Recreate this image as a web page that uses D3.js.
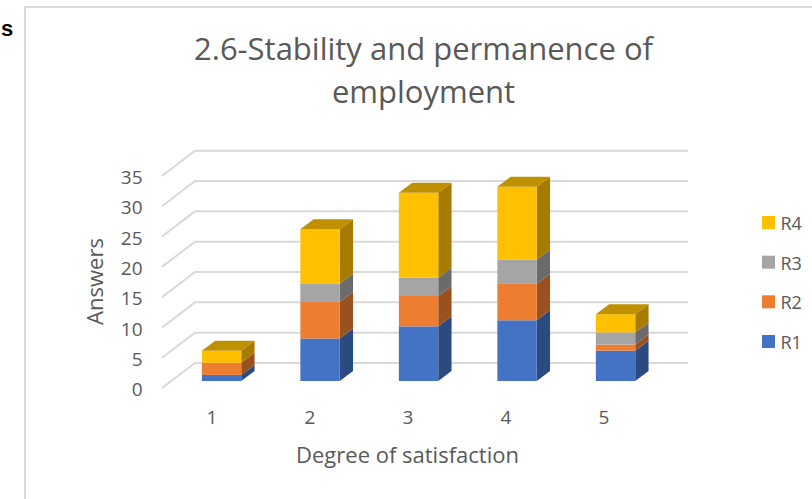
<!DOCTYPE html>
<html><head><meta charset="utf-8">
<script src="https://cdn.jsdelivr.net/npm/d3@7"></script>
<style>html,body{margin:0;padding:0;background:#fff}svg{display:block}text{font-family:"Open Sans",sans-serif}</style>
</head><body><svg id="c" width="812" height="499"></svg>
<script>
const categories = ["1","2","3","4","5"];
const seriesNames = ["R1","R2","R3","R4"];
const R1 = [1,7,9,10,5];
const R2 = [2,6,5,6,1];
const R3 = [0,3,3,4,2];
const R4 = [2,9,14,12,3];
const yTicks = [0,5,10,15,20,25,30,35];
const frontColors = ["#4472c4","#ed7d31","#a5a5a5","#ffc000"];
const sideColors = ["#2b4a80","#9a5120","#6b6b6b","#a67c00"];
const topColor = "#bf9000";
const titleLines = ["2.6-Stability and permanence of","employment"];

const svg = d3.select("#c");
const rows = categories.map((c,i)=>({c,R1:R1[i],R2:R2[i],R3:R3[i],R4:R4[i]}));
const stacked = d3.stack().keys(seriesNames)(rows);

const depth = {dx:13.3, dy:-10};
const x = d3.scaleBand().domain(categories).range([172.3,664.8]).paddingInner(0.6).paddingOuter(0.3);
const xLabels = d3.scalePoint().domain(categories).range([212,604]);
const y = d3.scaleLinear().domain([0,35]).range([381,168.5]);
const yBack = d3.scaleLinear().domain([0,35]).range([363,150.7]);
const yFront = d3.scaleLinear().domain([0,35]).range([388,176]);

// frame and stray letter
svg.append("path").attr("d","M25,499V7H812").attr("fill","none").attr("stroke","#d9d9d9").attr("stroke-width",2);
svg.append("text").attr("x",1).attr("y",36).attr("font-size",22).attr("font-weight",700)
  .style("font-family","'Liberation Sans',Arial,sans-serif").attr("fill","#000").text("s");

// title
svg.append("g").selectAll("text").data(titleLines).join("text")
  .attr("x",423.5).attr("y",(d,i)=>60+i*43).attr("text-anchor","middle")
  .attr("font-size",31).attr("fill","#595959").text(d=>d);

// gridlines
const grid = svg.append("g").attr("fill","none").attr("stroke","#d9d9d9").attr("stroke-width",2);
grid.selectAll("path").data(yTicks).join("path")
  .attr("d",t=>`M162,${yFront(t)}L195,${yBack(t)}H688`);

// y axis labels
const yAxisG = svg.append("g").attr("transform","translate(142.5,-0.5)")
  .call(d3.axisLeft(d3.scaleLinear().domain([0,35]).range([390,178])).tickValues(yTicks).tickSize(0).tickPadding(0));
yAxisG.select(".domain").remove();
yAxisG.selectAll("text").attr("font-size",19).attr("fill","#595959").style("font-family","'Open Sans',sans-serif");

// bars
const barsG = svg.append("g");
stacked.forEach((s,si)=>{
  const g = barsG.append("g");
  s.forEach((d,i)=>{
    if (d[1]===d[0]) return;
    const cat = categories[i];
    const x0 = x(cat), x1 = x0+x.bandwidth();
    const yb = y(d[0]), yt = y(d[1]);
    g.append("path").attr("fill",sideColors[si])
      .attr("d",`M${x1},${yb}l${depth.dx},${depth.dy}V${yt+depth.dy}L${x1},${yt}Z`);
    g.append("rect").attr("x",x0).attr("y",yt).attr("width",x.bandwidth()).attr("height",yb-yt).attr("fill",frontColors[si]);
  });
});
// top caps
barsG.append("g").selectAll("path").data(categories).join("path")
  .attr("fill",topColor)
  .attr("d",(c,i)=>{
    const x0=x(c), x1=x0+x.bandwidth(), t=y(R1[i]+R2[i]+R3[i]+R4[i]);
    return `M${x0},${t}L${x1},${t}l${depth.dx},${depth.dy}H${x0+depth.dx}Z`;
  });

// x axis labels
const xAxisG = svg.append("g").attr("transform","translate(-0.5,424)")
  .call(d3.axisBottom(xLabels).tickSize(0).tickPadding(0));
xAxisG.select(".domain").remove();
xAxisG.selectAll("text").attr("font-size",19).attr("fill","#595959").attr("dy",0).attr("y",0).style("font-family","'Open Sans',sans-serif");

// axis titles
svg.append("text").attr("x",407.5).attr("y",463).attr("text-anchor","middle").attr("font-size",22).attr("fill","#595959").text("Degree of satisfaction");
svg.append("text").attr("transform","translate(103,281.5) rotate(-90)").attr("text-anchor","middle").attr("font-size",22).attr("fill","#595959").text("Answers");

// legend
const legendY = d3.scalePoint().domain(["R4","R3","R2","R1"]).range([216,335]);
const leg = svg.append("g").selectAll("g").data(seriesNames).join("g").attr("transform",d=>`translate(762,${legendY(d)})`);
leg.append("rect").attr("width",13).attr("height",13).attr("fill",(d,i)=>frontColors[i]);
leg.append("text").attr("x",18.5).attr("y",14).attr("font-size",18).attr("fill","#595959").text(d=>d);
</script></body></html>
